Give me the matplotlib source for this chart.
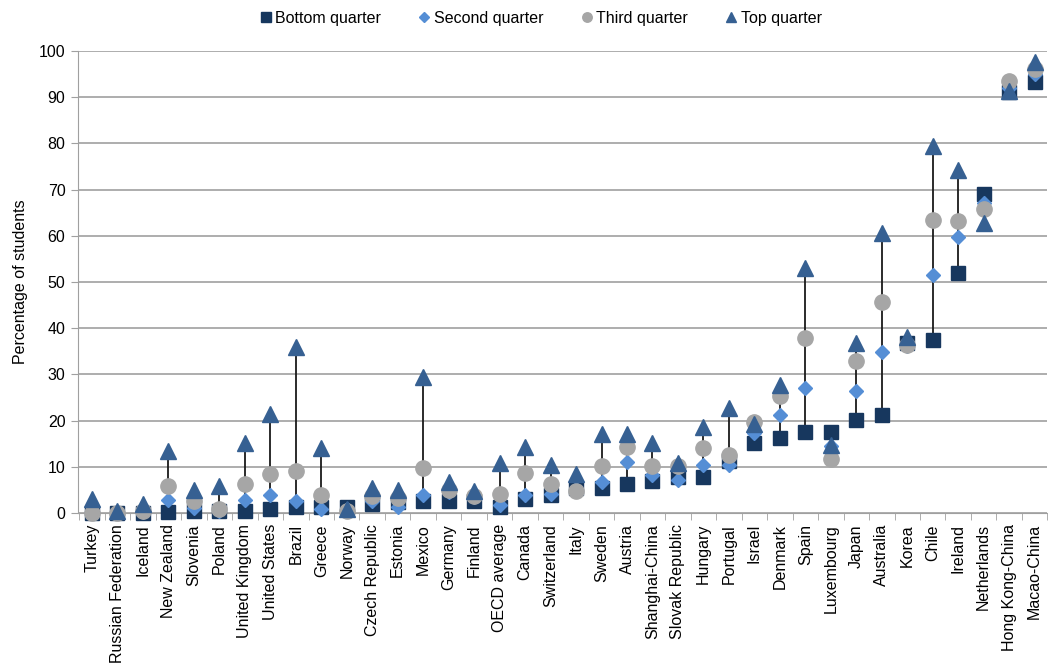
import numpy as np
import matplotlib
matplotlib.use("Agg")
import matplotlib.pyplot as plt
from matplotlib.lines import Line2D

plt.rcParams['font.family'] = ['Liberation Sans Narrow', 'Liberation Sans', 'DejaVu Sans']

countries = ["Turkey", "Russian Federation", "Iceland", "New Zealand", "Slovenia", "Poland",
             "United Kingdom", "United States", "Brazil", "Greece", "Norway", "Czech Republic",
             "Estonia", "Mexico", "Germany", "Finland", "OECD average", "Canada", "Switzerland",
             "Italy", "Sweden", "Austria", "Shanghai-China", "Slovak Republic", "Hungary",
             "Portugal", "Israel", "Denmark", "Spain", "Luxembourg", "Japan", "Australia",
             "Korea", "Chile", "Ireland", "Netherlands", "Hong Kong-China", "Macao-China"]

bottom = [0.0, 0.1, 0.0, 0.3, 0.4, 0.4, 0.5, 0.9, 1.3, 1.3, 1.4, 2.0,
          2.3, 2.5, 2.7, 2.5, 1.2, 3.0, 4.0, 5.5, 5.5, 6.3, 7.0, 7.8,
          7.8, 11.2, 15.1, 16.2, 17.5, 17.5, 20.2, 21.3, 36.8, 37.5, 52.0, 69.1, 91.1, 93.3]
second = [0.1, 0.1, 0.3, 2.9, 1.0, 0.5, 2.9, 3.8, 2.7, 0.9, 0.8, 2.5,
          1.4, 4.0, 4.5, 3.5, 1.8, 4.0, 4.1, 5.2, 6.8, 11.1, 8.3, 7.2,
          10.4, 10.4, 17.3, 21.2, 27.1, 14.6, 26.5, 34.9, 36.2, 51.6, 59.7, 67.0, 92.0, 95.1]
third = [0.0, 0.1, 0.4, 5.9, 2.5, 0.8, 6.3, 8.4, 9.0, 3.8, 0.4, 3.6,
         3.2, 9.7, 5.0, 3.7, 4.1, 8.6, 6.3, 4.7, 10.2, 14.2, 10.2, 10.2,
         14.1, 12.5, 19.8, 25.3, 37.8, 11.7, 32.8, 45.7, 36.4, 63.4, 63.2, 65.7, 93.6, 96.2]
top = [3.1, 0.4, 1.9, 13.4, 4.9, 5.9, 15.2, 21.5, 36.0, 14.1, 0.9, 5.4,
       5.0, 29.5, 6.8, 4.7, 10.8, 14.3, 10.4, 8.4, 17.1, 17.1, 15.1, 10.8,
       18.6, 22.8, 19.2, 27.7, 53.0, 14.8, 36.9, 60.5, 38.2, 79.4, 74.3, 62.8, 91.3, 97.6]

series = [("Bottom quarter", bottom, "s", "#17375E", 10.5),
          ("Second quarter", second, "D", "#558ED5", 7.5),
          ("Third quarter", third, "o", "#A6A6A6", 11),
          ("Top quarter", top, "^", "#366092", 11)]

x = np.arange(len(countries))
fig = plt.figure(figsize=(10.48, 6.65), dpi=100)
ax = fig.add_axes([0.0744, 0.2286, 0.925, 0.6947])

# hi-lo lines
allv = np.array([bottom, second, third, top])
ax.vlines(x, allv.min(axis=0), allv.max(axis=0), color="#1a1a1a", lw=1.3, zorder=2)

handles = []
for i, (name, vals, mk, col, ms) in enumerate(series):
    ax.plot(x, vals, ls="none", marker=mk, ms=ms, color=col, mec=col, clip_on=False, zorder=3 + i)
    handles.append(Line2D([], [], ls="none", marker=mk, color=col, ms=ms * 0.62, label=name))

ax.set_xlim(-0.55, len(countries) - 0.5)
ax.set_ylim(0, 100)
ax.set_yticks(np.arange(0, 101, 10))
ax.grid(axis="y", color="#A0A0A0", lw=1.2)
ax.set_axisbelow(True)
ax.set_xticks(x)
ax.set_xticklabels(countries, rotation=90, fontsize=11.5)
ax.set_xticks(np.arange(len(countries) + 1) - 0.5, minor=True)
ax.tick_params(axis="x", which="major", length=0, pad=8)
ax.tick_params(axis="x", which="minor", length=5, color="#A0A0A0", direction="out")
ax.tick_params(axis="y", length=5, color="#A0A0A0", direction="out", labelsize=11.5, pad=4)
for s in ["top", "right"]:
    ax.spines[s].set_visible(False)
ax.spines["left"].set_color("#A0A0A0")
ax.spines["bottom"].set_color("#A0A0A0")
ax.set_ylabel("Percentage of students", fontsize=11.5, labelpad=8)

fig.legend(handles=handles, loc="upper center", bbox_to_anchor=(0.515, 1.005), ncol=4,
           frameon=False, fontsize=11.5, handletextpad=0.1, columnspacing=2.2, handlelength=1.0)

fig.savefig("out.png", dpi=100)
